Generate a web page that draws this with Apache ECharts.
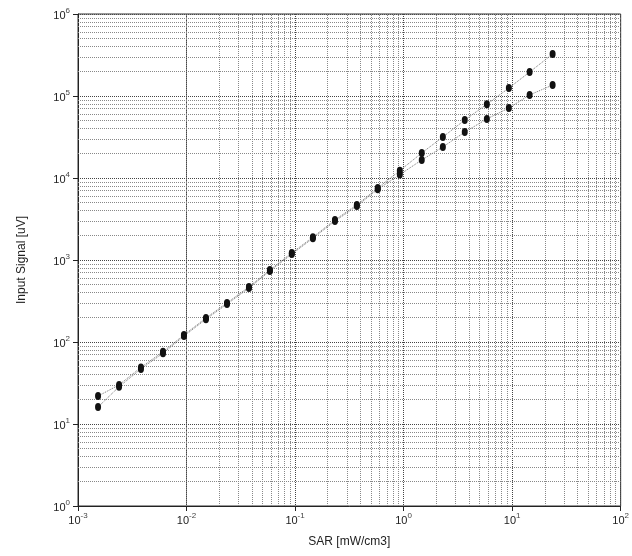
<!DOCTYPE html>
<html>
<head>
<meta charset="utf-8">
<script src="https://cdn.jsdelivr.net/npm/echarts@6/dist/echarts.min.js"></script>
<style>html,body{margin:0;padding:0;background:#fff;}#c{width:632px;height:556px;}</style>
</head>
<body>
<div id="c"></div>
<script>
// SAR values [mW/cm3]
var sarValues = [0.00153, 0.00239, 0.0038, 0.00607, 0.00946, 0.0151, 0.0236, 0.0376, 0.0586, 0.0933, 0.146, 0.233, 0.371, 0.578, 0.923, 1.47, 2.30, 3.66, 5.85, 9.33, 14.5, 23.6];
// Input signal [uV], linear (upper) series
var signalUpper = [21.9, 30, 49, 76, 122, 196, 300, 470, 755, 1220, 1900, 3080, 4700, 7550, 12300, 20200, 31600, 50900, 79400, 125000, 196000, 325000];
// Input signal [uV], compressed (lower) series
var signalLower = [16.1, 28.5, 47, 73, 118, 190, 290, 455, 735, 1180, 1840, 2980, 4550, 7300, 11000, 16600, 23900, 36300, 52500, 71400, 103000, 136000];
// axis decades
var xDecades = [0.001, 0.01, 0.1, 1, 10, 100];
var yDecades = [1, 10, 100, 1000, 10000, 100000, 1000000];
var minorFactors = [2, 3, 4, 5, 6, 7, 8, 9];

function pairs(xs, ys) { return xs.map(function (x, i) { return [x, ys[i]]; }); }
function minorLines(decades, key) {
  var out = [];
  for (var i = 0; i < decades.length - 1; i++) {
    minorFactors.forEach(function (f) { var o = {}; o[key] = decades[i] * f; out.push(o); });
  }
  return out;
}
function supLabel(v) {
  var e = Math.round(Math.log10(v));
  return '{b|10}{s|' + e + '}';
}
var rich = {
  b: { fontSize: 11, color: '#222', fontFamily: 'Liberation Sans', verticalAlign: 'bottom', lineHeight: 14 },
  s: { fontSize: 8, color: '#444', fontFamily: 'Liberation Sans', verticalAlign: 'top', lineHeight: 14 }
};

var chart = echarts.init(document.getElementById('c'), null, { renderer: 'canvas' });
chart.setOption({
  backgroundColor: '#fff',
  animation: false,
  grid: { left: 78, right: 11, top: 14, bottom: 50, show: true, borderColor: '#333', borderWidth: 1, backgroundColor: 'transparent' },
  xAxis: {
    type: 'log', logBase: 10, min: 0.001, max: 100,
    name: 'SAR [mW/cm3]', nameLocation: 'middle', nameGap: 30,
    nameTextStyle: { fontSize: 12, color: '#222', fontFamily: 'Liberation Sans' },
    axisLine: { lineStyle: { color: '#222', width: 1 } },
    axisTick: { show: true, inside: false, length: 5, lineStyle: { color: '#222' } },
    axisLabel: { formatter: supLabel, rich: rich, margin: 6 },
    splitLine: { show: true, lineStyle: { color: '#444', type: 'dotted', width: 1 } }
  },
  yAxis: {
    type: 'log', logBase: 10, min: 1, max: 1000000,
    name: 'Input Signal [uV]', nameLocation: 'middle', nameGap: 50,
    nameTextStyle: { fontSize: 12, color: '#222', fontFamily: 'Liberation Sans' },
    axisLine: { show: true, lineStyle: { color: '#222', width: 1 } },
    axisTick: { show: true, inside: false, length: 5, lineStyle: { color: '#222' } },
    axisLabel: { formatter: supLabel, rich: rich, margin: 8 },
    splitLine: { show: true, lineStyle: { color: '#444', type: 'dotted', width: 1 } }
  },
  series: [
    {
      type: 'line', name: 'grid-x', data: [], silent: true,
      markLine: { silent: true, symbol: 'none', label: { show: false },
        lineStyle: { color: '#888', type: 'dotted', width: 1 },
        data: minorLines(xDecades, 'xAxis') }
    },
    {
      type: 'line', name: 'grid-y', data: [], silent: true,
      markLine: { silent: true, symbol: 'none', label: { show: false },
        lineStyle: { color: '#888', type: 'dotted', width: 1 },
        data: minorLines(yDecades, 'yAxis') }
    },
    {
      type: 'line', name: 'upper', data: pairs(sarValues, signalUpper),
      symbol: 'circle', symbolSize: [6, 8], showSymbol: true,
      itemStyle: { color: '#111' },
      lineStyle: { color: '#777', width: 1, type: 'dotted' }, z: 5
    },
    {
      type: 'line', name: 'lower', data: pairs(sarValues, signalLower),
      symbol: 'circle', symbolSize: [6, 8], showSymbol: true,
      itemStyle: { color: '#111' },
      lineStyle: { color: '#777', width: 1, type: 'dotted' }, z: 5
    }
  ]
});
</script>
</body>
</html>
